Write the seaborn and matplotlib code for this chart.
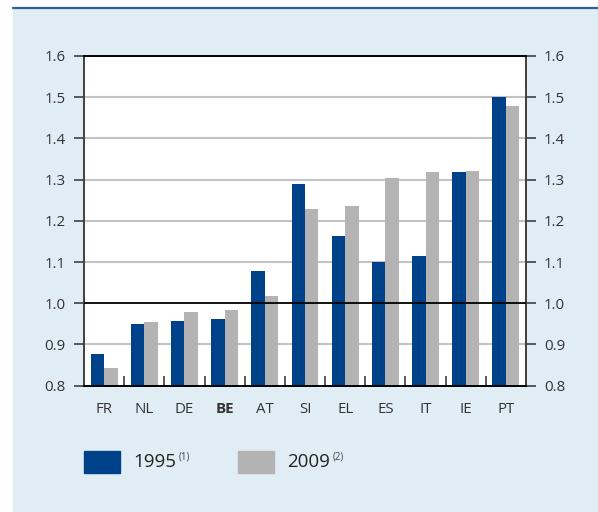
import matplotlib.pyplot as plt
from matplotlib.patches import Rectangle
from matplotlib.lines import Line2D
import seaborn as sns
import pandas as pd

# ── DATA ──────────────────────────────────────────────
countries = ['FR', 'NL', 'DE', 'BE', 'AT', 'SI', 'EL', 'ES', 'IT', 'IE', 'PT']
vals_1995 = [0.876, 0.949, 0.956, 0.961, 1.079, 1.289, 1.164, 1.101, 1.115, 1.318, 1.500]
vals_2009 = [0.844, 0.954, 0.980, 0.983, 1.018, 1.228, 1.237, 1.303, 1.318, 1.320, 1.478]
years = ['1995', '2009']
notes = ['(1)', '(2)']
yticks = [0.8, 0.9, 1.0, 1.1, 1.2, 1.3, 1.4, 1.5, 1.6]

BLUE = '#00428A'
GREY = '#B3B3B3'
BG = '#E1EDF5'
TXT = '#333333'

df = pd.DataFrame({
    'country': countries * 2,
    'value': vals_1995 + vals_2009,
    'year': [years[0]] * len(countries) + [years[1]] * len(countries),
})

sns.set_theme(style='white')
plt.rcParams['font.family'] = ['Open Sans', 'DejaVu Sans']

fig = plt.figure(figsize=(5.98, 5.12), dpi=100, facecolor='white')
fig.patches.append(Rectangle((13 / 598, 0), 1 - 13 / 598, 1 - 9 / 512,
                             transform=fig.transFigure, color=BG, zorder=-5))
fig.lines.append(Line2D([13 / 598, 1], [1 - 8 / 512] * 2, transform=fig.transFigure,
                        color='#2F5E9C', lw=1.6, zorder=-4))

ax = fig.add_axes([84 / 598, 1 - 385.7 / 512, 442 / 598, 329.7 / 512])
ax.set_zorder(2)
ax.set_facecolor('white')

sns.barplot(data=df, x='country', y='value', hue='year', palette=[BLUE, GREY],
            width=0.67, saturation=1, linewidth=0, legend=False, ax=ax, zorder=2)

ax.set_xlim(-0.5, len(countries) - 0.5)
ax.set_ylim(yticks[0], yticks[-1])
ax.set_yticks(yticks)
ax.set_yticklabels([f'{t:.1f}' for t in yticks])
ax.set_xlabel('')
ax.set_ylabel('')

# gridlines
for t in yticks[1:-1]:
    if abs(t - 1.0) < 1e-9:
        ax.axhline(t, color='black', lw=1.3, zorder=3)
    else:
        ax.axhline(t, color='#C2C2C2', lw=1.5, zorder=1)

for side in ['left', 'right']:
    ax.spines[side].set_color('#404040')
    ax.spines[side].set_linewidth(1.4)
for side in ['top', 'bottom']:
    ax.spines[side].set_color('black')
    ax.spines[side].set_linewidth(1.4)

ax.tick_params(axis='y', which='major', direction='out', length=7.5, width=1.2,
               color='#404040', pad=5.5, labelsize=10.8, labelcolor=TXT,
               left=True, right=True, labelleft=True, labelright=True)
ax.tick_params(axis='x', which='major', length=0, pad=12, labelsize=10.8, labelcolor=TXT)
ax.set_xticks([i + 0.5 for i in range(len(countries) - 1)], minor=True)
ax.tick_params(axis='x', which='minor', direction='in', length=7.5, width=1.2,
               color='#404040', bottom=True)

for lbl in ax.get_xticklabels():
    if lbl.get_text() == 'BE':
        lbl.set_fontweight('bold')

# legend
for i, (yr, note, col) in enumerate(zip(years, notes, [BLUE, GREY])):
    x0 = [84, 238][i]
    fig.patches.append(Rectangle((x0 / 598, 1 - 473 / 512), 36 / 598, 22 / 512,
                                 transform=fig.transFigure, color=col, zorder=2))
    fig.text((x0 + 49) / 598, 1 - 462 / 512, yr, fontsize=13.5, color='#222222',
             va='center', ha='left')
    fig.text((x0 + 95) / 598, 1 - 457 / 512, note, fontsize=7, color='#444444',
             va='center', ha='left')

fig.savefig('out.png', dpi=100, facecolor=fig.get_facecolor())
